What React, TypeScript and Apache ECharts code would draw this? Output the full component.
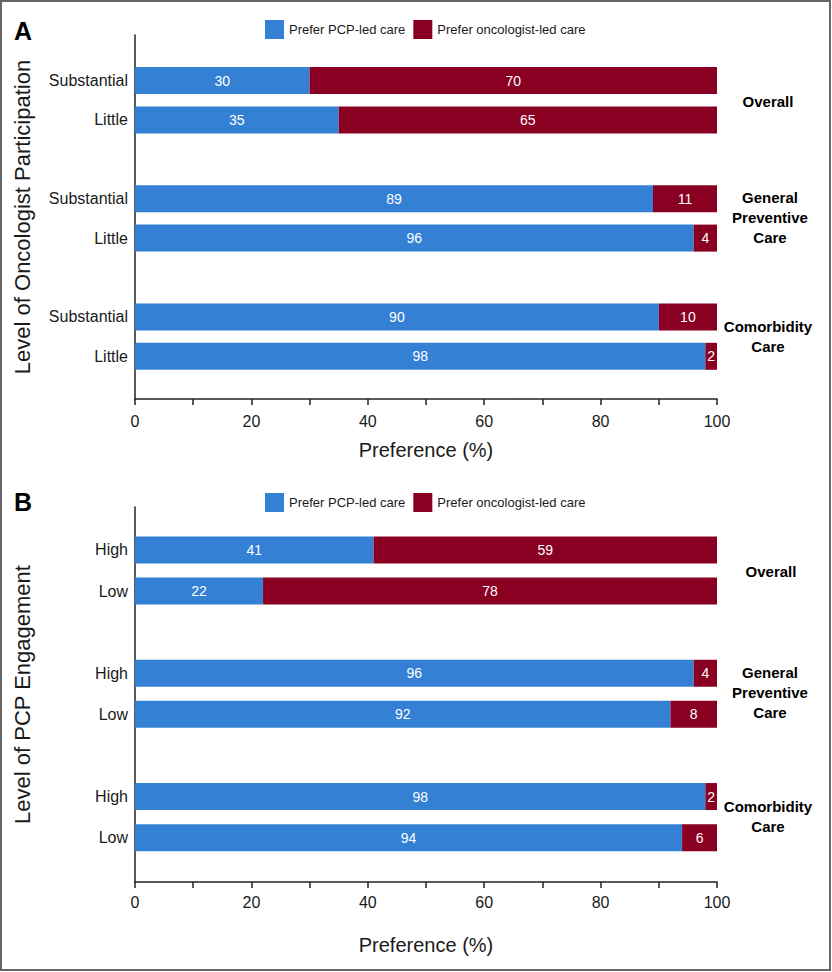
import React, { useEffect, useRef } from "react";
import * as echarts from "echarts";

const seriesNames = ["Prefer PCP-led care", "Prefer oncologist-led care"];
const rowLabelsA = ["Substantial", "Little", "", "Substantial", "Little", "", "Substantial", "Little"];
const rowLabelsB = ["High", "Low", "", "High", "Low", "", "High", "Low"];
const pcpA = [30, 35, "-", 89, 96, "-", 90, 98];
const oncA = [70, 65, "-", 11, 4, "-", 10, 2];
const pcpB = [41, 22, "-", 96, 92, "-", 98, 94];
const oncB = [59, 78, "-", 4, 8, "-", 2, 6];
const groupLabels = ["Overall", "General\nPreventive\nCare", "Comorbidity\nCare"];
const yTitles = ["Level of Oncologist Participation", "Level of PCP Engagement"];
const xTitle = "Preference (%)";
const panelLetters = ["A", "B"];

const BLUE = "#3380D4";
const RED = "#8A0022";
const INK = "#1a1a1a";
const FONT = "'Liberation Sans', Arial, Helvetica, sans-serif";

export default function App() {
  const ref = useRef<HTMLDivElement>(null);
  useEffect(() => {
    if (!ref.current) return;
    const chart = echarts.init(ref.current, undefined, { renderer: "svg" });

    const barGrids = [
      { top: 60.8, height: 315.2 },
      { top: 529.4, height: 328.8 },
    ];
    const axisGrids = [
      { top: 35, height: 364 },
      { top: 507, height: 375 },
    ];
    const grid: any[] = [];
    [0, 1].forEach((p) => {
      grid.push({ left: 135, right: 115, top: barGrids[p].top, height: barGrids[p].height });
      grid.push({ left: 135, right: 115, top: axisGrids[p].top, height: axisGrids[p].height });
    });

    const lineStyle = { color: "#222", width: 1.5 };
    const xAxis: any[] = [];
    const yAxis: any[] = [];
    const labels = [rowLabelsA, rowLabelsB];
    const nameGaps = [41, 53];
    const labelMargins = [14, 12];
    [0, 1].forEach((p) => {
      xAxis.push({ gridIndex: p * 2, type: "value", min: 0, max: 100, show: false });
      xAxis.push({
        gridIndex: p * 2 + 1,
        type: "value",
        min: 0,
        max: 100,
        interval: 10,
        axisLine: { show: true, lineStyle },
        axisTick: { show: true, length: 6, lineStyle },
        splitLine: { show: false },
        axisLabel: {
          margin: labelMargins[p],
          fontSize: 16,
          fontFamily: FONT,
          color: INK,
          formatter: (v: number) => (v % 20 === 0 ? String(v) : ""),
        },
        name: xTitle,
        nameLocation: "middle",
        nameGap: nameGaps[p],
        nameTextStyle: { fontSize: 20, fontFamily: FONT, color: INK },
      });
      const rl = labels[p];
      yAxis.push({
        gridIndex: p * 2,
        type: "category",
        inverse: true,
        data: rl.map((_, i) => "r" + i),
        axisLine: { show: false },
        axisTick: { show: false },
        axisLabel: {
          margin: 7,
          fontSize: 16,
          fontFamily: FONT,
          color: INK,
          formatter: (_v: string, i: number) => rl[i],
        },
      });
      yAxis.push({
        gridIndex: p * 2 + 1,
        type: "category",
        data: [""],
        axisLine: { show: true, lineStyle },
        axisTick: { show: false },
        axisLabel: { show: false },
        name: yTitles[p],
        nameLocation: "middle",
        nameGap: 102,
        nameRotate: 90,
        nameTextStyle: { fontSize: 22, fontFamily: FONT, color: INK },
      });
    });

    const label = { show: true, position: "inside", color: "#fff", fontSize: 14, fontFamily: FONT };
    const mk = (name: string, data: any[], idx: number, color: string, stack: string) => ({
      type: "bar",
      name,
      xAxisIndex: idx,
      yAxisIndex: idx,
      stack,
      data,
      barWidth: 27,
      itemStyle: { color },
      label,
    });
    const series = [
      mk(seriesNames[0], pcpA, 0, BLUE, "a"),
      mk(seriesNames[1], oncA, 0, RED, "a"),
      mk(seriesNames[0], pcpB, 2, BLUE, "b"),
      mk(seriesNames[1], oncB, 2, RED, "b"),
    ];

    const legendBase = {
      left: 260,
      itemWidth: 19,
      itemHeight: 19,
      itemGap: 8,
      icon: "rect",
      selectedMode: false,
      textStyle: { fontSize: 13, fontFamily: FONT, color: INK },
      data: seriesNames,
    };

    const groupPos = [
      [
        [768, 101],
        [770, 217],
        [768, 336],
      ],
      [
        [771, 571],
        [770, 692],
        [768, 816],
      ],
    ];
    const graphic: any[] = [
      {
        type: "rect",
        shape: { x: 1, y: 1, width: 829, height: 969 },
        style: { fill: "none", stroke: "#666", lineWidth: 2 },
        silent: true,
      },
    ];
    [0, 1].forEach((p) => {
      graphic.push({
        type: "text",
        x: 14,
        y: p === 0 ? 30.5 : 502,
        style: {
          text: panelLetters[p],
          fontSize: 25,
          fontWeight: "bold",
          fontFamily: FONT,
          fill: "#000",
          align: "left",
          verticalAlign: "middle",
        },
      });
      groupLabels.forEach((g, i) => {
        graphic.push({
          type: "text",
          x: groupPos[p][i][0],
          y: groupPos[p][i][1],
          style: {
            text: g,
            fontSize: 15,
            fontWeight: "bold",
            fontFamily: FONT,
            fill: "#000",
            align: "center",
            verticalAlign: "middle",
            lineHeight: 20,
          },
        });
      });
    });

    chart.setOption({
      animation: false,
      backgroundColor: "#fff",
      textStyle: { fontFamily: FONT },
      grid,
      xAxis,
      yAxis,
      legend: [
        { ...legendBase, top: 15 },
        { ...legendBase, top: 488 },
      ],
      series,
      graphic,
    });
    return () => chart.dispose();
  }, []);
  return (
    <div
      ref={ref}
      style={{ position: "fixed", left: 0, top: 0, width: 832, height: 972, background: "#fff" }}
    />
  );
}
